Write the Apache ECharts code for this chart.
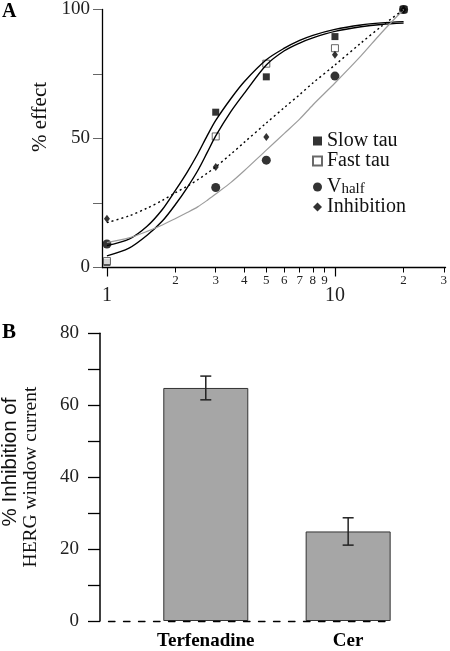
<!DOCTYPE html>
<html>
<head>
<meta charset="utf-8">
<script src="https://cdn.jsdelivr.net/npm/echarts@6/dist/echarts.min.js"></script>
<style>html,body{margin:0;padding:0;background:#fff}#c{width:450px;height:651px}</style>
</head>
<body>
<div id="c"></div>
<script>
// ---------- Panel A data ----------
const concentrations = [1, 3, 5, 10, 20];
const slowTau    = [2.0, 60.2, 73.9, 89.5, 100];
const fastTau    = [2.5, 50.8, 79.0, 85.0, 100];
const vHalf      = [9.1, 31.0, 41.6, 74.2, 100];
const inhibition = [18.9, 39.0, 50.6, 82.5, 100];

// fitted curves
const fitX          = [1, 1.25, 1.5, 1.75, 2, 2.25, 2.5, 2.75, 3, 3.5, 4, 5, 6, 7, 8, 10, 13, 16, 20];
const slowTauFit    = [8.5, 11, 16, 22.5, 30, 37, 44, 51, 57, 65.5, 72, 80.5, 85, 88, 90, 92.3, 94, 94.8, 95.3];
const fastTauFit    = [4.5, 7.5, 12.5, 18, 24.5, 31, 37.5, 44.5, 51, 60.5, 67.5, 78.5, 84, 87, 89, 91.5, 93.3, 94.2, 94.7];
const vHalfFit      = [9.7, 11.5, 14, 16.5, 19, 21.3, 23.5, 26, 28.5, 33, 37.5, 45.5, 52, 57.5, 63, 71.5, 82, 91, 100];
const inhibitionFit = [17.4, 20, 23, 26, 29, 31.5, 34, 36.5, 39, 44, 48.5, 56, 62, 67, 71.5, 78.5, 87, 93.5, 100];

const minorTicks      = [2, 3, 4, 5, 6, 7, 8, 9, 20, 30];
const minorTickLabels = ['2', '3', '4', '5', '6', '7', '8', '9', '2', '3'];
const majorTicks      = [1, 10];
const majorTickLabels = ['1', '10'];

// ---------- Panel B data ----------
const barCategories = ['Terfenadine', 'Cer'];
const barValues     = [64.8, 24.9];
const barErrors     = [3.3, 3.8];

// ---------- helpers ----------
const SERIF = "'Liberation Serif', 'Times New Roman', serif";
const SANS  = "'Liberation Sans', Arial, sans-serif";
const lg = Math.log10;
const pts = (xs, ys) => xs.map((x, i) => [lg(x), ys[i]]);
const labelFor = (ticks, labels) => v => {
  const i = ticks.findIndex(t => Math.abs(lg(t) - v) < 1e-6);
  return i >= 0 ? labels[i] : '';
};
const xMin = lg(0.9515), xMax = lg(30.54);

const chart = echarts.init(document.getElementById('c'), null, {renderer: 'canvas'});

const fitLine = (name, data, style) => ({
  name, type: 'line', xAxisIndex: 0, yAxisIndex: 0, data,
  showSymbol: false, smooth: 0.3, silent: true, lineStyle: style
});

const option = {
  backgroundColor: '#fff',
  animation: false,
  title: [
    {text: 'A', left: 2, top: 2, padding: 0, textStyle: {fontFamily: SERIF, fontWeight: 'bold', fontSize: 20, color: '#000'}},
    {text: 'B', left: 2, top: 322, padding: 0, textStyle: {fontFamily: SERIF, fontWeight: 'bold', fontSize: 21, color: '#000'}}
  ],
  graphic: [
    {type: 'text', x: 40, y: 117, rotation: Math.PI / 2,
     style: {text: '% effect', fontFamily: SERIF, fontSize: 21, fill: '#111', textAlign: 'center', textVerticalAlign: 'middle'}},
    {type: 'text', x: 10, y: 462, rotation: Math.PI / 2,
     style: {text: '% Inhibition of', fontFamily: SANS, fontSize: 20.5, fill: '#111', textAlign: 'center', textVerticalAlign: 'middle'}},
    {type: 'text', x: 31, y: 477, rotation: Math.PI / 2,
     style: {text: 'HERG window current', fontFamily: SERIF, fontSize: 19.5, fill: '#111', textAlign: 'center', textVerticalAlign: 'middle'}}
  ],
  legend: {
    orient: 'vertical', left: 312, top: 131, padding: 0, itemWidth: 9, itemHeight: 9, itemGap: 0,
    selectedMode: false,
    data: [
      {name: 'Slow tau', icon: 'rect'},
      {name: 'Fast tau', icon: 'rect'},
      {name: 'Vhalf', icon: 'circle'},
      {name: 'Inhibition', icon: 'diamond'}
    ],
    formatter: n => n === 'Vhalf' ? '{v|V}{s|half}' : n,
    textStyle: {
      fontFamily: SERIF, fontSize: 20, lineHeight: 20, color: '#111',
      rich: {
        v: {fontFamily: SERIF, fontSize: 20, lineHeight: 20, color: '#111', verticalAlign: 'top'},
        s: {fontFamily: SERIF, fontSize: 15, lineHeight: 15, color: '#111', padding: [11, 0, 0, 0], verticalAlign: 'bottom'}
      }
    }
  },
  grid: [
    {left: 102, right: 0, top: 6, height: 261.5},
    {left: 100, right: 57, top: 333.3, bottom: 29.3}
  ],
  xAxis: [
    {type: 'value', gridIndex: 0, position: 'bottom', min: xMin, max: xMax,
     axisLine: {onZero: false, lineStyle: {color: '#000', width: 1.3}},
     axisTick: {show: true, length: 5, customValues: minorTicks.map(lg), lineStyle: {color: '#000', width: 1}},
     axisLabel: {customValues: minorTicks.map(lg), formatter: labelFor(minorTicks, minorTickLabels),
                 fontFamily: SERIF, fontSize: 13, margin: 7, color: '#222'},
     splitLine: {show: false}},
    {type: 'value', gridIndex: 0, position: 'bottom', min: xMin, max: xMax,
     axisLine: {show: false},
     axisTick: {show: true, length: 9, customValues: majorTicks.map(lg), lineStyle: {color: '#000', width: 1.2}},
     axisLabel: {customValues: majorTicks.map(lg), formatter: labelFor(majorTicks, majorTickLabels),
                 fontFamily: SERIF, fontSize: 20, margin: 18, color: '#222'},
     splitLine: {show: false}},
    {type: 'value', gridIndex: 1, position: 'bottom', min: 0.257, max: 2.315, z: 5,
     axisLine: {onZero: false, lineStyle: {color: '#000', width: 1.3, type: [6.5, 8.5], dashOffset: 6.5}},
     axisTick: {show: false},
     axisLabel: {customValues: [1, 2], formatter: v => barCategories[Math.round(v) - 1] || '',
                 fontFamily: SERIF, fontWeight: 'bold', fontSize: 19, margin: 11, color: '#000'},
     splitLine: {show: false}}
  ],
  yAxis: [
    {type: 'value', gridIndex: 0, min: 0, max: 100, interval: 25,
     axisLine: {show: true, onZero: false, lineStyle: {color: '#000', width: 1.3}},
     axisTick: {show: true, length: 9, lineStyle: {color: '#666', width: 1}},
     axisLabel: {formatter: v => (v % 50 === 0 ? String(v) : ''), fontFamily: SERIF, fontSize: 19, margin: 12, color: '#222'},
     splitLine: {show: false}},
    {type: 'value', gridIndex: 1, min: 0, max: 80, interval: 10,
     axisLine: {show: true, onZero: false, lineStyle: {color: '#000', width: 1.5}},
     axisTick: {show: true, length: 12, lineStyle: {color: '#000', width: 1.3}},
     axisLabel: {formatter: v => (v % 20 === 0 ? String(v) : ''), fontFamily: SERIF, fontSize: 19, margin: 21, color: '#222'},
     splitLine: {show: false}}
  ],
  series: [
    fitLine('Slow tau fit', pts(fitX, slowTauFit), {color: '#000', width: 1.4}),
    fitLine('Fast tau fit', pts(fitX, fastTauFit), {color: '#000', width: 1.4}),
    fitLine('Vhalf fit', pts(fitX, vHalfFit), {color: '#9c9c9c', width: 1.2}),
    fitLine('Inhibition fit', pts(fitX, inhibitionFit), {color: '#000', width: 1.4, type: [2, 3]}),
    {name: 'Slow tau', type: 'scatter', xAxisIndex: 0, yAxisIndex: 0, data: pts(concentrations, slowTau),
     symbol: 'rect', symbolSize: 7, itemStyle: {color: '#000'}},
    {name: 'Fast tau', type: 'scatter', xAxisIndex: 0, yAxisIndex: 0, data: pts(concentrations, fastTau),
     symbol: 'rect', symbolSize: 7, itemStyle: {color: '#fff', borderColor: '#444', borderWidth: 1}},
    {name: 'Inhibition', type: 'scatter', xAxisIndex: 0, yAxisIndex: 0, data: pts(concentrations, inhibition),
     symbol: 'diamond', symbolSize: [6, 8], itemStyle: {color: '#000'}},
    {name: 'Vhalf', type: 'scatter', xAxisIndex: 0, yAxisIndex: 0, data: pts(concentrations, vHalf),
     symbol: 'circle', symbolSize: 9, itemStyle: {color: '#000'}},
    {name: 'Inhibition of HERG window current', type: 'bar', xAxisIndex: 2, yAxisIndex: 1,
     data: barValues.map((v, i) => [i + 1, v]), barWidth: 85,
     itemStyle: {color: '#a6a6a6', borderColor: '#333', borderWidth: 1}},
    {name: 'SEM', type: 'custom', xAxisIndex: 2, yAxisIndex: 1, z: 4,
     data: barValues.map((v, i) => [i + 1, v, barErrors[i]]),
     renderItem: (params, api) => {
       const x = api.value(0), v = api.value(1), e = api.value(2);
       const top = api.coord([x, v + e]), bot = api.coord([x, v - e]);
       const w = 5.5, st = {stroke: '#222', lineWidth: 1.5};
       return {type: 'group', children: [
         {type: 'line', shape: {x1: top[0], y1: top[1], x2: bot[0], y2: bot[1]}, style: st},
         {type: 'line', shape: {x1: top[0] - w, y1: top[1], x2: top[0] + w, y2: top[1]}, style: st},
         {type: 'line', shape: {x1: bot[0] - w, y1: bot[1], x2: bot[0] + w, y2: bot[1]}, style: st}
       ]};
     }}
  ]
};
chart.setOption(option);
</script>
</body>
</html>
